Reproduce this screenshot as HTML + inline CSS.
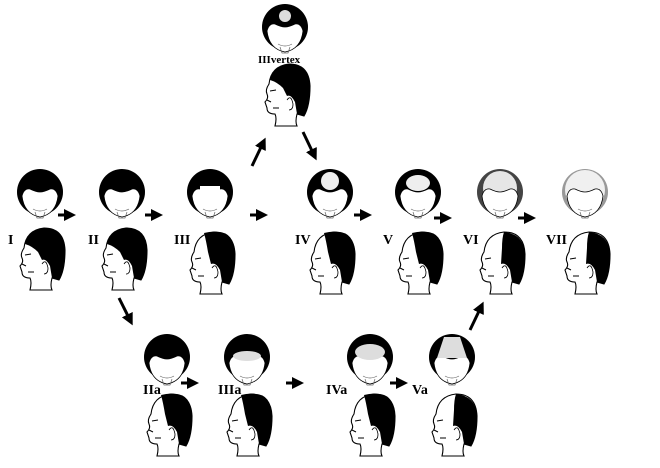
<!DOCTYPE html>
<html><head><style>
body{margin:0;background:#fff;width:660px;height:468px;overflow:hidden}
svg{display:block}
text{font-family:"Liberation Serif",serif;font-weight:bold;fill:#000}
</style></head><body>
<svg width="660" height="468" viewBox="0 0 660 468">
<defs>
<marker id="ah" markerWidth="4" markerHeight="4" refX="2" refY="2" orient="auto" markerUnits="strokeWidth"><path d="M0,0 L4,2 L0,4 z" fill="#000"/></marker>
<g id="face">
<path d="M-18,4 Q-16,-4 -10,-3 Q-4,0 0,0 Q4,0 10,-3 Q16,-4 18,4 Q16,22 0,25 Q-16,22 -18,4z" fill="#fff" stroke="#000" stroke-width="0.8"/>
<path d="M-7,17 Q0,21 7,17 M-5,20 L-3,26 L3,26 L5,20" fill="none" stroke="#666" stroke-width="0.7"/>
</g>
<g id="top">
<circle cx="0" cy="0" r="23" fill="#000"/>
<use href="#face"/>
</g>
<g id="head">
<path d="M-16,-10 Q-14,-28 4,-30 Q24,-30 25,-8 Q25,12 19,22 L12,20 Q10,28 12,32 L-10,32 Q-8,24 -10,20 Q-18,20 -18,14 L-20,8 Q-16,4 -18,0 Q-20,-4 -16,-10Z" fill="#fff" stroke="#000" stroke-width="1.1"/>
<path d="M-15,-3 L-9,-4 M-12,14 L-6,14 M-18,6 L-14,8" stroke="#000" stroke-width="1" fill="none"/>
</g>
<g id="ear"><path d="M2,6 Q6,0 8,10 Q8,16 4,16" fill="#fff" stroke="#000" stroke-width="0.8"/></g>
<g id="side">
<use href="#head"/>
<path d="M-15,-14 Q-12,-28 4,-30 Q24,-30 25,-8 Q25,12 19,22 L12,20 L10,8 Q6,0 2,2 L-2,-6 Q-8,-12 -15,-14z" fill="#000"/>
<use href="#ear"/>
</g>
<g id="sideB">
<use href="#head"/>
<path d="M-6,-29 Q2,-31 8,-30 Q24,-30 25,-8 Q25,12 19,22 L12,20 L10,8 Q6,0 1,2 L-2,-10 Q-4,-22 -6,-29z" fill="#000"/>
<use href="#ear"/>
</g>
<g id="sideC">
<use href="#head"/>
<path d="M4,-30 Q24,-28 25,-8 Q25,12 19,22 L12,20 L10,8 Q6,0 1,2 L2,-14 Q2,-24 4,-30z" fill="#000"/>
<use href="#ear"/>
</g>
</defs>

<use href="#top" x="40" y="192"/>
<use href="#top" x="122" y="192"/>
<circle cx="210" cy="192" r="23" fill="#000"/><use href="#face" x="210" y="192"/><rect x="200" y="186" width="20" height="8" fill="#fff"/>
<circle cx="330" cy="192" r="23" fill="#000"/><use href="#face" x="330" y="192"/>
<circle cx="330" cy="181" r="9" fill="#eee"/>
<circle cx="418" cy="192" r="23" fill="#000"/><use href="#face" x="418" y="192"/>
<ellipse cx="418" cy="183" rx="12" ry="8" fill="#eee"/>
<circle cx="500" cy="192" r="23" fill="#444"/>
<circle cx="500" cy="188" r="17" fill="#e6e6e6"/><use href="#face" x="500" y="192"/>
<circle cx="585" cy="192" r="23" fill="#999"/>
<circle cx="585" cy="190" r="20" fill="#f0f0f0"/><use href="#face" x="585" y="192"/>

<use href="#side" x="40" y="258"/>
<use href="#side" x="122" y="258"/>
<use href="#sideB" x="210" y="262"/>
<use href="#sideB" x="330" y="262"/>
<use href="#sideB" x="418" y="262"/>
<use href="#sideC" x="500" y="262"/>
<use href="#sideC" x="585" y="262"/>

<circle cx="285" cy="27" r="23" fill="#000"/><use href="#face" x="285" y="27"/>
<circle cx="285" cy="16" r="6" fill="#ddd"/>
<use href="#side" x="285" y="94"/>
<text x="258" y="63" font-size="11">IIIvertex</text>

<text x="8" y="244" font-size="14">I</text>
<text x="88" y="244" font-size="14">II</text>
<text x="174" y="244" font-size="14">III</text>
<text x="295" y="244" font-size="14">IV</text>
<text x="383" y="244" font-size="14">V</text>
<text x="463" y="244" font-size="14">VI</text>
<text x="546" y="244" font-size="14">VII</text>

<g stroke="#000" stroke-width="3" marker-end="url(#ah)">
<line x1="58" y1="215" x2="70" y2="215"/>
<line x1="145" y1="215" x2="157" y2="215"/>
<line x1="250" y1="215" x2="262" y2="215"/>
<line x1="354" y1="215" x2="366" y2="215"/>
<line x1="434" y1="218" x2="446" y2="218"/>
<line x1="518" y1="218" x2="530" y2="218"/>
<line x1="252" y1="166" x2="263" y2="143"/>
<line x1="303" y1="132" x2="314" y2="155"/>
<line x1="119" y1="298" x2="130" y2="320"/>
<line x1="470" y1="330" x2="481" y2="307"/>
<line x1="181" y1="383" x2="193" y2="383"/>
<line x1="286" y1="383" x2="298" y2="383"/>
<line x1="390" y1="383" x2="402" y2="383"/>
</g>

<circle cx="167" cy="357" r="23" fill="#000"/><use href="#face" x="167" y="359"/>
<circle cx="247" cy="357" r="23" fill="#000"/><use href="#face" x="247" y="359"/>
<ellipse cx="247" cy="356" rx="14" ry="5" fill="#ddd"/>
<circle cx="370" cy="357" r="23" fill="#000"/><use href="#face" x="370" y="359"/>
<ellipse cx="370" cy="352" rx="15" ry="8" fill="#ddd"/>
<circle cx="452" cy="357" r="23" fill="#000"/><use href="#face" x="452" y="359"/>
<path d="M444,337 L460,337 L467,358 L437,358z" fill="#ddd"/>

<use href="#sideB" x="167" y="424"/>
<use href="#sideB" x="247" y="424"/>
<use href="#sideB" x="370" y="424"/>
<use href="#sideC" x="452" y="424"/>
<text x="143" y="394" font-size="14">IIa</text>
<text x="218" y="394" font-size="14">IIIa</text>
<text x="326" y="394" font-size="14">IVa</text>
<text x="412" y="394" font-size="14">Va</text>
</svg>
</body></html>
